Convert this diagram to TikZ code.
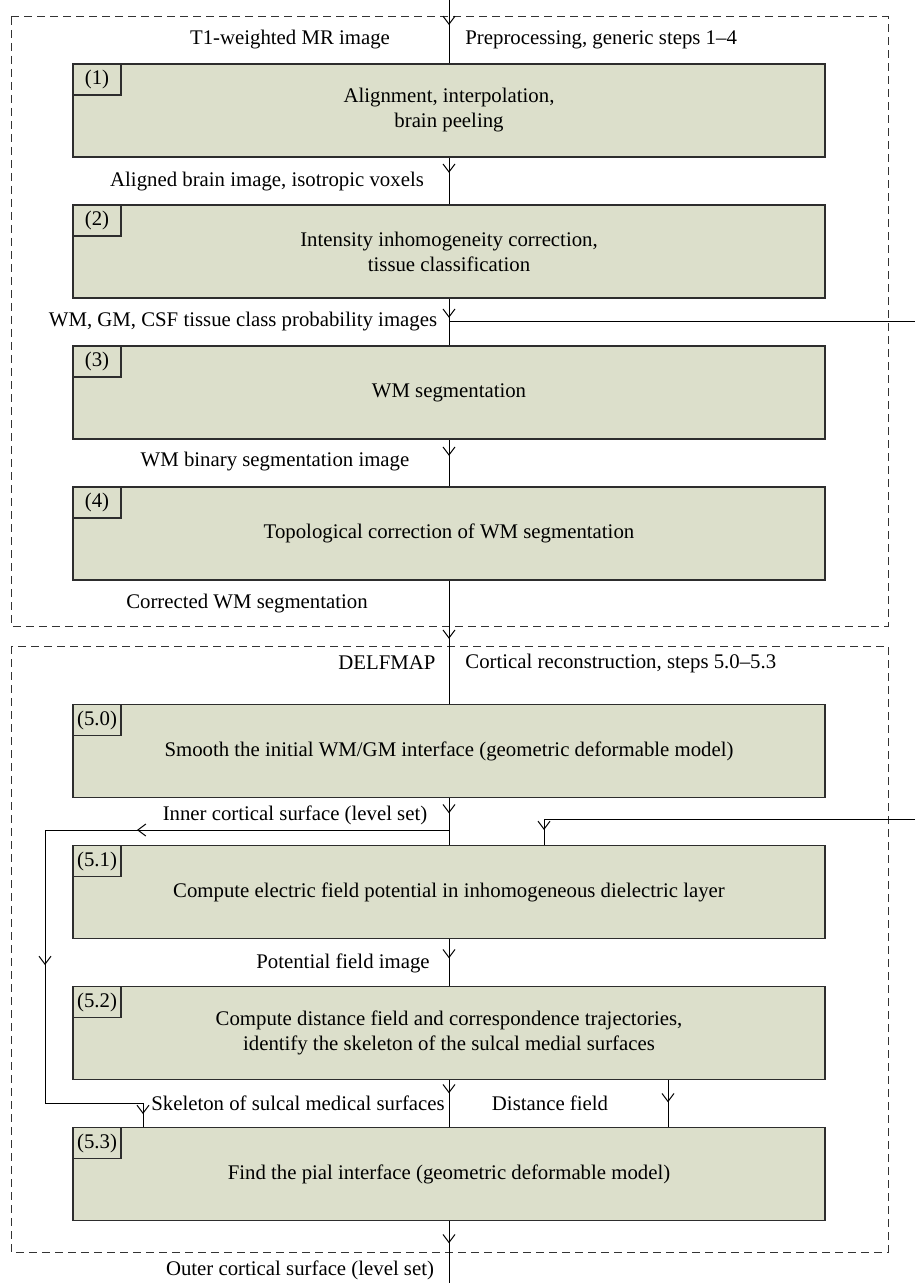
\documentclass[tikz,border=0pt]{standalone}
\usepackage{fontspec}
\setmainfont{Liberation Serif}
\usetikzlibrary{positioning, arrows.meta, decorations.markings}
\definecolor{boxfill}{RGB}{220,223,203}
\definecolor{boxline}{RGB}{45,45,45}

\begin{document}
\begin{tikzpicture}[x=0.5pt,y=-0.5pt,node distance=70.5pt,on grid,
    font=\fontsize{10.4}{12.5}\selectfont,
    stepbox/.style={draw=boxline,line width=0.8pt,fill=boxfill,minimum width=376pt,minimum height=46.5pt,align=center,inner sep=0pt},
    tab/.style={draw=boxline,line width=0.8pt,anchor=north west,minimum width=24pt,minimum height=15.5pt,inner sep=0pt},
    lbl/.style={inner sep=0pt},
    group/.style={draw=black!80,line width=0.5pt,dash pattern=on 4pt off 2.5pt},
    flow/.style={draw,line width=0.5pt,postaction={decorate},
      decoration={markings,mark=at position #1 with {\arrow{Straight Barb[length=4pt,width=6pt]}}}},
    line/.style={draw,line width=0.5pt}]
  \useasboundingbox (0,0) rectangle (915,1283);

  \draw[group] (11,17) rectangle (888,626);
  \draw[group] (11,646) rectangle (888,1252);

  \node[stepbox] (s1) at (449,110.5) {Alignment, interpolation,\\brain peeling};
  \node[stepbox] (s2) [below=of s1] {Intensity inhomogeneity correction,\\tissue classification};
  \node[stepbox] (s3) [below=of s2] {WM segmentation};
  \node[stepbox] (s4) [below=of s3] {Topological correction of WM segmentation};
  \node[stepbox] (s50) at (449,751) {Smooth the initial WM/GM interface (geometric deformable model)};
  \node[stepbox] (s51) [below=of s50] {Compute electric field potential in inhomogeneous dielectric layer};
  \node[stepbox] (s52) [below=of s51] {Compute distance field and correspondence trajectories,\\identify the skeleton of the sulcal medial surfaces};
  \node[stepbox] (s53) [below=of s52] {Find the pial interface (geometric deformable model)};

  \node[tab] (n1) at (s1.north west) {(1)};
  \node[tab] (n2) at (s2.north west) {(2)};
  \node[tab] (n3) at (s3.north west) {(3)};
  \node[tab] (n4) at (s4.north west) {(4)};
  \node[tab] (n50) at (s50.north west) {(5.0)};
  \node[tab] (n51) at (s51.north west) {(5.1)};
  \node[tab] (n52) at (s52.north west) {(5.2)};
  \node[tab] (n53) at (s53.north west) {(5.3)};

  \node[lbl] (t1) at (290,40) {T1-weighted MR image};
  \node[lbl,anchor=west] (g1) at (465,40) {Preprocessing, generic steps 1--4};
  \node[lbl] (t2) at (267,182) {Aligned brain image, isotropic voxels};
  \node[lbl] (t3) at (243,322) {WM, GM, CSF tissue class probability images};
  \node[lbl] (t4) at (275,462) {WM binary segmentation image};
  \node[lbl] (t5) at (247,604) {Corrected WM segmentation};
  \node[lbl] (t6) at (387,663) {DELFMAP};
  \node[lbl,anchor=west] (g2) at (465,663) {Cortical reconstruction, steps 5.0--5.3};
  \node[lbl] (t7) at (295,815) {Inner cortical surface (level set)};
  \node[lbl] (t8) at (343,963) {Potential field image};
  \node[lbl] (t9) at (298,1103) {Skeleton of sulcal medical surfaces};
  \node[lbl] (t10) at (550,1103) {Distance field};
  \node[lbl] (t11) at (300,1270) {Outer cortical surface (level set)};

  \coordinate (in) at (449,0);
  \coordinate (out) at (449,1283);
  \coordinate (j0) at (449,322);
  \coordinate (r1) at (915,322);
  \coordinate (r2) at (915,819);
  \coordinate (j1) at (449,830);

  \path (in) edge[flow=12.5pt] (s1)
        (s1) edge[flow=7.5pt] (s2)
        (s2) edge[flow=9.5pt] (s3)
        (s3) edge[flow=8pt] (s4)
        (s4) edge[flow=29pt] (s50)
        (s50) edge[flow=7.5pt] (s51)
        (s51) edge[flow=9.5pt] (s52)
        (s52) edge[flow=6.5pt] (s53)
        (s53) edge[flow=11pt] (out);
  \draw[line] (j0) -- (r1);
  \draw[flow=191pt] (r2) -| ([xshift=47.5pt]s51.north);
  \draw[line,postaction={decorate},decoration={markings,
      mark=at position 156pt with {\arrow{Straight Barb[length=4pt,width=6pt]}},
      mark=at position 269.5pt with {\arrow{Straight Barb[length=4pt,width=6pt]}},
      mark=at position 393pt with {\arrow{Straight Barb[length=4pt,width=6pt]}}}]
    (j1) -- (45,830) -- (45,1103) -| ([xshift=-153pt]s53.north);
  \draw[flow=11pt] ([xshift=109.5pt]s52.south) -- ([xshift=109.5pt]s53.north);
\end{tikzpicture}
\end{document}
